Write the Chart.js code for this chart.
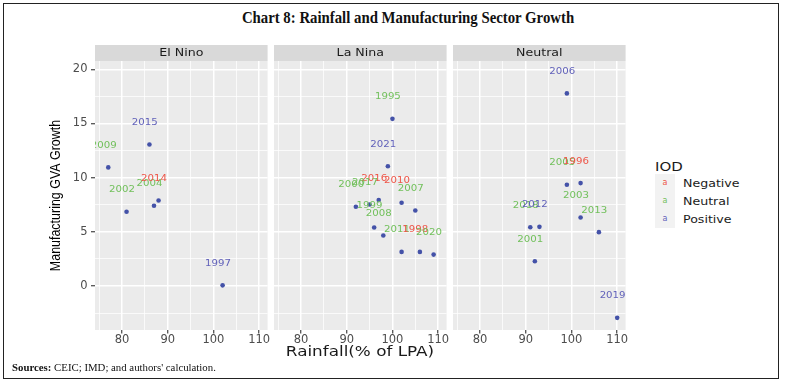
<!DOCTYPE html>
<html>
<head>
<meta charset="utf-8">
<script src="https://cdn.jsdelivr.net/npm/chart.js@4.4.1/dist/chart.umd.min.js"></script>
<style>
  html, body { margin: 0; padding: 0; background: #fff; }
  #wrap { position: relative; width: 785px; height: 382px; overflow: hidden; background: #fff; }
  #frame { position: absolute; left: 3px; top: 2.5px; width: 775.5px; height: 376.5px; box-sizing: border-box; border: 1.5px solid #222; }
  #title { position: absolute; left: 408px; top: 8px; transform: translateX(-50%) scaleX(0.87); white-space: nowrap; line-height: 20px;
           font-family: "Liberation Serif", "DejaVu Serif", serif; font-weight: bold; font-size: 17px; color: #111; }
  #sources { position: absolute; left: 12px; top: 360px; white-space: nowrap; line-height: 14px;
             font-family: "Liberation Serif", "DejaVu Serif", serif; font-size: 10.8px; color: #111; }
  #xtitle { position: absolute; left: 360px; top: 343px; white-space: nowrap; line-height: 17px;
            font-family: "DejaVu Sans", sans-serif; font-size: 14px; color: #1a1a1a;
            transform: translateX(-50%) scaleX(1.2); }
  canvas { position: absolute; }
  .lg { position: absolute; white-space: nowrap; font-family: "DejaVu Sans", sans-serif; color: #1a1a1a;
        transform-origin: left center; transform: scaleX(1.2); }
  .key { position: absolute; background: #F2F2F2; text-align: center; font-family: "DejaVu Sans", sans-serif; font-size: 8px; }
</style>
</head>
<body>
<div id="wrap">
  <div id="frame"></div>
  <div id="title">Chart 8: Rainfall and Manufacturing Sector Growth</div>
  <canvas id="c1" width="236" height="305" style="left:40px;top:45px;width:236px;height:305px"></canvas>
  <canvas id="c2" width="191" height="305" style="left:264px;top:45px;width:191px;height:305px"></canvas>
  <canvas id="c3" width="191" height="305" style="left:442.8px;top:45px;width:191px;height:305px"></canvas>
  <div id="xtitle">Rainfall(% of LPA)</div>
  <div id="legend"></div>
  <div id="sources"><b>Sources:</b> CEIC; IMD; and authors' calculation.</div>
</div>
<script>
// ---- data ----
const panelNames = ['El Nino', 'La Nina', 'Neutral'];
const iodLevels = ['Negative', 'Neutral', 'Positive'];
const iodColors = ['#EE5548', '#72C05C', '#6262BA'];

const elNinoYears = [2009, 2015, 2002, 2004, 2014, 1997];
const elNinoRain  = [77, 86, 81, 87, 88, 102];
const elNinoGva   = [10.95, 13.06, 6.85, 7.41, 7.9, 0.06];
const elNinoIod   = ['Neutral', 'Positive', 'Neutral', 'Neutral', 'Negative', 'Positive'];

const laNinaYears = [1995, 2021, 2016, 2017, 2000, 2010, 2007, 1999, 2008, 2011, 1998, 2020];
const laNinaRain  = [100, 99, 97, 95, 92, 102, 105, 96, 98, 102, 106, 109];
const laNinaGva   = [15.43, 11.05, 7.93, 7.53, 7.31, 7.69, 6.97, 5.4, 4.66, 3.15, 3.15, 2.9];
const laNinaIod   = ['Neutral', 'Positive', 'Negative', 'Neutral', 'Neutral', 'Negative', 'Neutral', 'Neutral', 'Neutral', 'Neutral', 'Negative', 'Neutral'];

const neutralYears = [2006, 2005, 1996, 2003, 2013, 2018, 2012, 2001, 2019];
const neutralRain  = [99, 99, 102, 102, 106, 91, 93, 92, 110];
const neutralGva   = [17.78, 9.35, 9.5, 6.33, 4.97, 5.43, 5.46, 2.28, -2.94];
const neutralIod   = ['Positive', 'Neutral', 'Negative', 'Neutral', 'Neutral', 'Neutral', 'Positive', 'Neutral', 'Positive'];

const xMajorTicks = [80, 90, 100, 110];
const xMinorTicks = [75, 85, 95, 105];
const yMajorTicks = [0, 5, 10, 15, 20];
const yMinorTicks = [-2.5, 2.5, 7.5, 12.5, 17.5];

const yAxisTitle = 'Manufacturing GVA Growth';

// ---- styling / layout constants ----
const X_MIN = 74.1, X_MAX = 111.84, Y_MIN = -4.06, Y_MAX = 20.77;
const LABEL_NUDGE_X = -1, LABEL_NUDGE_Y = 2;
const STRETCH = 1.2;
const STRIP_H = 16;
const POINT_COLOR = '#4452A8';

function gridOpts(major, tickLen, showTicks) {
  return {
    color: '#FFFFFF',
    lineWidth: c => (c.tick && major.includes(c.tick.value)) ? 1.5 : 0.75,
    drawTicks: showTicks,
    tickLength: tickLen,
    tickWidth: 1.1,
    tickColor: c => (c.tick && major.includes(c.tick.value)) ? '#333333' : 'rgba(0,0,0,0)'
  };
}

function makePanel(id, name, years, rain, gva, iod, first) {
  const deco = {
    id: 'deco',
    beforeDraw(chart) {
      const {ctx, chartArea: a} = chart;
      ctx.save();
      ctx.fillStyle = '#EBEBEB';
      ctx.fillRect(a.left, a.top, a.right - a.left, a.bottom - a.top);
      ctx.fillStyle = '#D9D9D9';
      ctx.fillRect(a.left, a.top - STRIP_H, a.right - a.left, STRIP_H);
      ctx.fillStyle = '#1A1A1A';
      ctx.font = '10.5px "DejaVu Sans"';
      ctx.textAlign = 'center';
      ctx.textBaseline = 'middle';
      ctx.translate((a.left + a.right) / 2, a.top - STRIP_H / 2);
      ctx.scale(STRETCH, 1);
      ctx.fillText(name, 0, 0.5);
      ctx.restore();
      if (first) {
        // y-axis title (narrow sans, rotated), centred on the panel height
        ctx.save();
        ctx.fillStyle = '#000';
        ctx.font = '15px "Liberation Sans", Arial, sans-serif';
        ctx.textAlign = 'center';
        ctx.textBaseline = 'middle';
        ctx.translate(chart.scales.y.left + 16, (a.top + a.bottom) / 2);
        ctx.rotate(-Math.PI / 2);
        ctx.scale(0.83, 1);
        ctx.fillText(yAxisTitle, 0, 0);
        ctx.restore();
      }
    }
  };
  const labels = {
    id: 'yearLabels',
    afterDatasetsDraw(chart) {
      const {ctx, chartArea: a, scales: {x, y}} = chart;
      ctx.save();
      ctx.beginPath();
      ctx.rect(a.left, a.top, a.right - a.left, a.bottom - a.top);
      ctx.clip();
      ctx.font = '8.5px "DejaVu Sans"';
      ctx.textAlign = 'center';
      ctx.textBaseline = 'middle';
      years.forEach((yr, i) => {
        const px = x.getPixelForValue(rain[i] + LABEL_NUDGE_X);
        const py = y.getPixelForValue(gva[i] + LABEL_NUDGE_Y);
        ctx.fillStyle = iodColors[iodLevels.indexOf(iod[i])];
        ctx.save();
        ctx.translate(px, py);
        ctx.scale(STRETCH, 1);
        ctx.fillText(String(yr), 0, 0);
        ctx.restore();
      });
      ctx.restore();
    }
  };
  const tickFont = {family: '"DejaVu Sans"', size: 11.5};
  const yScale = {
    type: 'linear', min: Y_MIN, max: Y_MAX,
    afterBuildTicks: s => { s.ticks = yMinorTicks.concat(yMajorTicks).sort((a, b) => a - b).map(v => ({value: v})); },
    afterFit: s => { s.width = first ? 55 : 0; },
    border: {display: false},
    grid: gridOpts(yMajorTicks, 4, first),
    ticks: {
      display: first, autoSkip: false, padding: 3.5, color: '#4D4D4D', font: tickFont,
      callback: v => yMajorTicks.includes(v) ? String(v) : ''
    },
    title: {display: false}
  };
  const xScale = {
    type: 'linear', min: X_MIN, max: X_MAX,
    afterBuildTicks: s => { s.ticks = xMinorTicks.concat(xMajorTicks).sort((a, b) => a - b).map(v => ({value: v})); },
    afterFit: s => { s.height = 15; },
    border: {display: false},
    grid: gridOpts(xMajorTicks, 3.5, true),
    ticks: {
      autoSkip: false, maxRotation: 0, minRotation: 0, padding: 0, color: '#4D4D4D', font: tickFont,
      callback: v => xMajorTicks.includes(v) ? String(v) : ''
    }
  };
  return new Chart(document.getElementById(id), {
    type: 'scatter',
    data: {
      datasets: [{
        data: rain.map((r, i) => ({x: r, y: gva[i]})),
        backgroundColor: POINT_COLOR, borderWidth: 0,
        pointRadius: 2.3, pointHoverRadius: 2.3
      }]
    },
    options: {
      responsive: false, animation: false, devicePixelRatio: 1, events: [],
      layout: {padding: {left: first ? 0 : 10, right: 8.4, top: STRIP_H, bottom: 5}},
      plugins: {legend: {display: false}, tooltip: {enabled: false}},
      scales: {x: xScale, y: yScale}
    },
    plugins: [deco, labels]
  });
}

makePanel('c1', panelNames[0], elNinoYears, elNinoRain, elNinoGva, elNinoIod, true);
makePanel('c2', panelNames[1], laNinaYears, laNinaRain, laNinaGva, laNinaIod, false);
makePanel('c3', panelNames[2], neutralYears, neutralRain, neutralGva, neutralIod, false);

// ---- legend ----
const leg = document.getElementById('legend');
const t = document.createElement('div');
t.className = 'lg';
t.textContent = 'IOD';
t.style.cssText = 'left:655px;top:159px;font-size:12.5px;line-height:16px;';
leg.appendChild(t);
iodLevels.forEach((lv, i) => {
  const k = document.createElement('div');
  k.className = 'key';
  k.style.cssText = `left:655px;top:${174 + 18 * i}px;width:20px;height:18px;line-height:17px;color:${iodColors[i]};`;
  k.textContent = 'a';
  leg.appendChild(k);
  const l = document.createElement('div');
  l.className = 'lg';
  l.textContent = lv;
  l.style.cssText = `left:683px;top:${175 + 18 * i}px;font-size:10.5px;line-height:16px;`;
  leg.appendChild(l);
});
</script>
</body>
</html>
